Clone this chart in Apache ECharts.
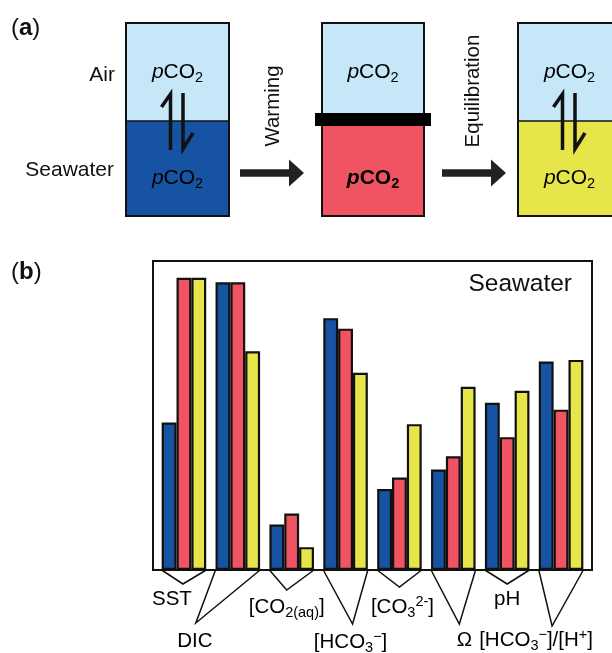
<!DOCTYPE html>
<html>
<head>
<meta charset="utf-8">
<script src="https://cdn.jsdelivr.net/npm/echarts@6/dist/echarts.min.js"></script>
<style>
  html, body { margin: 0; padding: 0; background: #fff; }
  #chart { width: 612px; height: 653px; }
</style>
</head>
<body>
<div id="chart"></div>
<script>
// panel (b) data, bar heights (frame height = 100)
const categories = ["SST", "DIC", "CO2(aq)", "HCO3-", "CO3 2-", "Omega", "pH", "HCO3-/H+"];
const labelTexts = [
  "{n|SST}",
  "{n|DIC}",
  "{n|[CO}{sub|2(aq)}{n|]}",
  "{n|[HCO}{sub|3}{sup|−}{n|]}",
  "{n|[CO}{sub|3}{sup|2-}{n|]}",
  "{n|Ω}",
  "{n|pH}",
  "{n|[HCO}{sub|3}{sup|−}{n|]/[H}{sup|+}{n|]}"
];
const initialState = [47.7, 93.1, 14.7, 81.5, 26.2, 32.5, 54.1, 67.5];
const afterWarming = [94.6, 93.1, 18.3, 78.1, 29.9, 36.8, 43.0, 51.9];
const afterEquilibration = [94.6, 70.8, 7.4, 63.8, 47.2, 59.3, 58.0, 68.0];

// where each bracket tip and label sits, relative to the group's base
const apexOffset = [[-1, 14], [-42, 53], [-5, 20], [7, 54], [0, 17], [6, 54], [0, 14], [-9, 56]];
const labelOffset = [[-12, 29], [-43, 71], [-5, 37], [5, 72], [3, 37], [11, 70], [0, 29], [-25, 70]];

const FONT = "Liberation Sans, Arial, sans-serif";
const C_AIR = "#c5e7f8";
const C_BLUE = "#1753a3";
const C_RED = "#f05462";
const C_YELLOW = "#e6e64a";
const INK = "#111";
const GAP = 0.173;

const rich = {
  n: { fontSize: 20.5, lineHeight: 26, fontFamily: FONT, color: INK },
  i: { fontSize: 21, lineHeight: 26, fontFamily: FONT, color: INK, fontStyle: "italic" },
  sub: { fontSize: 14.5, lineHeight: 14, fontFamily: FONT, color: INK, verticalAlign: "bottom" },
  sup: { fontSize: 14.5, lineHeight: 14, fontFamily: FONT, color: INK, verticalAlign: "top" }
};

function pco2(x, y, color, bold) {
  const w = bold ? "bold" : "normal";
  return {
    type: "text", x: x, y: y,
    style: {
      text: "{i|p}{n|CO}{sub|2}", align: "center", verticalAlign: "middle",
      rich: {
        i: Object.assign({}, rich.i, { color: color, fontWeight: w }),
        n: Object.assign({}, rich.n, { fontSize: 21, color: color, fontWeight: w }),
        sub: Object.assign({}, rich.sub, { color: color, fontWeight: w })
      }
    }
  };
}

function plain(text, x, y, size, align, extra) {
  return Object.assign({
    type: "text", x: x, y: y,
    style: { text: text, fontSize: size, fontFamily: FONT, fill: INK, align: align, verticalAlign: "middle" }
  }, extra || {});
}

function harpoons(x0) {
  const l = x0 + 44.5, r = x0 + 57;
  const st = { stroke: INK, lineWidth: 3.5, fill: null, lineJoin: "miter" };
  return [
    { type: "polyline", shape: { points: [[l, 150], [l, 94], [l - 9, 107]] }, style: st },
    { type: "polyline", shape: { points: [[r, 93], [r, 149], [r + 10, 133]] }, style: st }
  ];
}

function bigArrow(x0, y) {
  return {
    type: "polygon",
    shape: { points: [[x0, y - 3.7], [x0 + 49, y - 3.7], [x0 + 49, y - 13.5], [x0 + 64, y],
                      [x0 + 49, y + 13.5], [x0 + 49, y + 3.7], [x0, y + 3.7]] },
    style: { fill: "#222" }
  };
}

function box(x, w, waterColor, split) {
  return [
    { type: "rect", shape: { x: x, y: 23, width: w, height: split - 23 }, style: { fill: C_AIR } },
    { type: "rect", shape: { x: x, y: split, width: w, height: 216 - split }, style: { fill: waterColor } },
    { type: "line", shape: { x1: x, y1: split, x2: x + w, y2: split }, style: { stroke: INK, lineWidth: 1.5 } },
    { type: "rect", shape: { x: x, y: 23, width: w, height: 193 }, style: { fill: null, stroke: INK, lineWidth: 2 } }
  ];
}

function panelTag(letter, y) {
  return {
    type: "text", x: 11, y: y,
    style: { text: "({b|" + letter + "})", fontSize: 24, fontFamily: FONT, fill: INK, verticalAlign: "middle",
             rich: { b: { fontSize: 24, fontFamily: FONT, fontWeight: "bold", color: INK } } }
  };
}

const graphics = [].concat(
  box(126, 103, C_BLUE, 121),
  box(322, 102, C_RED, 121),
  [{ type: "rect", shape: { x: 315, y: 113, width: 116, height: 13 }, style: { fill: "#000" } }],
  box(518, 103, C_YELLOW, 121),
  harpoons(126),
  harpoons(518),
  [
    bigArrow(240, 173),
    bigArrow(442, 173),
    plain("Air", 115, 75, 21, "right"),
    plain("Seawater", 114, 170, 21, "right"),
    plain("Warming", 273, 106, 20.5, "center", { rotation: Math.PI / 2 }),
    plain("Equilibration", 473, 91, 20.5, "center", { rotation: Math.PI / 2 }),
    pco2(177.5, 72, INK, false),
    pco2(177.5, 178, "#fff", false),
    pco2(373, 72, INK, false),
    pco2(373, 178, INK, true),
    pco2(569.5, 72, INK, false),
    pco2(569.5, 178, INK, false),
    panelTag("a", 28),
    panelTag("b", 272),
    plain("Seawater", 572, 284, 24.5, "right")
  ]
);

function barSeries(name, values, color) {
  return {
    type: "bar", name: name, data: values,
    xAxisIndex: 0, yAxisIndex: 0,
    barGap: "0%", barCategoryGap: (GAP * 100) + "%",
    itemStyle: { color: color, borderColor: INK, borderWidth: 2.2 },
    z: 3
  };
}

const chart = echarts.init(document.getElementById("chart"), null, { renderer: "canvas" });
chart.setOption({
  animation: false,
  backgroundColor: "#fff",
  grid: [
    { left: 157, top: 261, width: 431, height: 309 },
    { left: 153, top: 261, width: 439, height: 309, show: true, borderColor: INK, borderWidth: 2, backgroundColor: "transparent", z: 1 }
  ],
  xAxis: [
    { type: "category", gridIndex: 0, data: categories, show: false },
    { type: "value", gridIndex: 1, show: false }
  ],
  yAxis: [
    { type: "value", gridIndex: 0, min: 0, max: 100, show: false },
    { type: "value", gridIndex: 1, show: false }
  ],
  series: [
    barSeries("Initial", initialState, C_BLUE),
    barSeries("Warming", afterWarming, C_RED),
    barSeries("Equilibration", afterEquilibration, C_YELLOW),
    {
      type: "custom",
      xAxisIndex: 0, yAxisIndex: 0,
      clip: false,
      data: categories.map(function (c, i) { return [i]; }),
      encode: { x: 0 },
      renderItem: function (params, api) {
        const i = api.value(0);
        const base = api.coord([i, 0]);
        const half = api.size([1, 0])[0] * (1 - GAP) / 2;
        const a = apexOffset[i], t = labelOffset[i];
        return {
          type: "group",
          children: [
            {
              type: "polyline",
              shape: { points: [[base[0] - half, base[1]], [base[0] + a[0], base[1] + a[1]], [base[0] + half, base[1]]] },
              style: { stroke: INK, lineWidth: 1.5, fill: null }
            },
            {
              type: "text",
              x: base[0] + t[0], y: base[1] + t[1],
              style: { text: labelTexts[i], rich: rich, align: "center", verticalAlign: "middle" }
            }
          ]
        };
      },
      z: 4
    }
  ],
  graphic: { elements: graphics }
});
</script>
</body>
</html>
